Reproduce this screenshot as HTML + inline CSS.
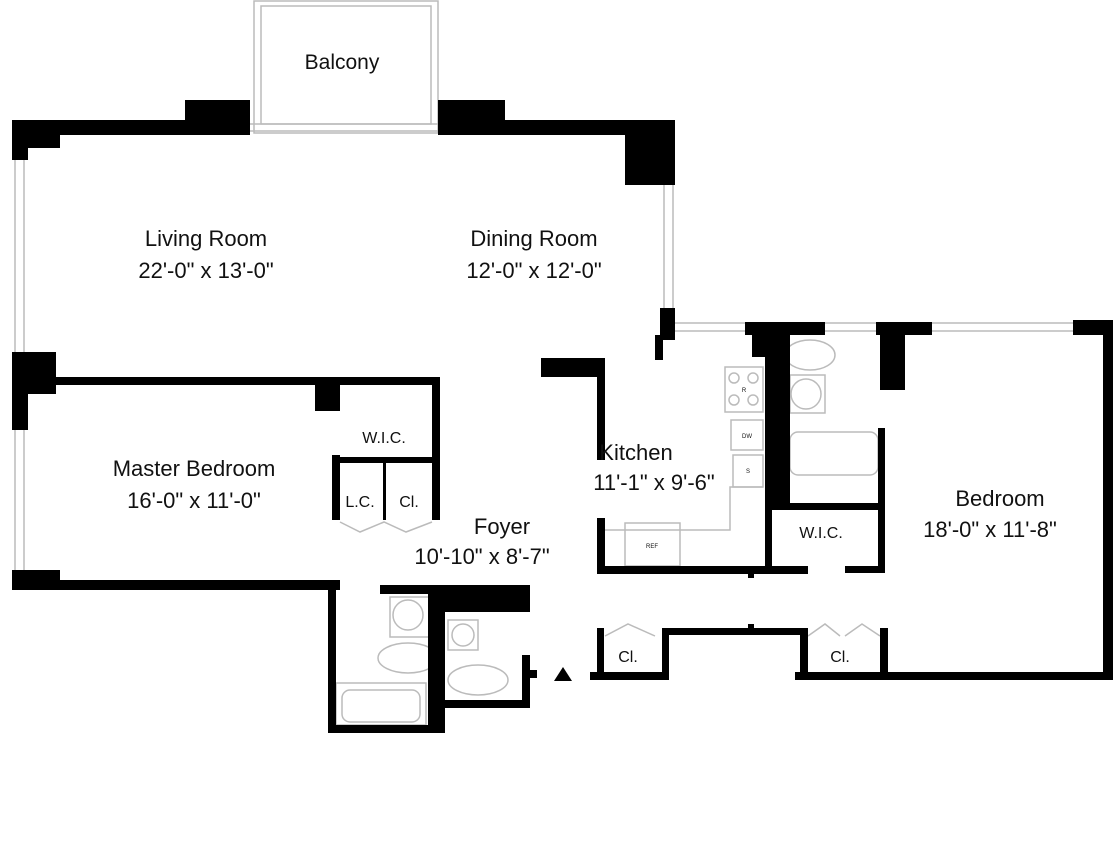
<!DOCTYPE html>
<html><head><meta charset="utf-8"><style>
html,body{margin:0;padding:0;background:#fff;}
svg{display:block;}
text{font-family:"Liberation Sans",sans-serif;fill:#111;text-anchor:middle;}
</style></head><body>
<svg width="1117" height="843" viewBox="0 0 1117 843">
<!-- balcony -->
<g fill="none" stroke="#bbb" stroke-width="1.5">
<rect x="254" y="1" width="184" height="132"/>
<rect x="261" y="6" width="170" height="118"/>
<line x1="250" y1="124" x2="438" y2="124"/><line x1="250" y1="131" x2="438" y2="131"/>
<!-- left windows -->
<line x1="15" y1="160" x2="15" y2="355"/><line x1="24" y1="160" x2="24" y2="355"/>
<line x1="15" y1="430" x2="15" y2="572"/><line x1="24" y1="430" x2="24" y2="572"/>
<!-- dining window -->
<line x1="664" y1="185" x2="664" y2="310"/><line x1="673" y1="185" x2="673" y2="310"/>
<!-- right top window -->
<line x1="675" y1="323" x2="1105" y2="323"/><line x1="675" y1="331" x2="1105" y2="331"/>
<!-- kitchen appliances -->
<rect x="725" y="367" width="38" height="45"/>
<circle cx="734" cy="378" r="5"/><circle cx="753" cy="378" r="5"/><circle cx="734" cy="400" r="5"/><circle cx="753" cy="400" r="5"/>
<rect x="731" y="420" width="32" height="30"/>
<rect x="733" y="455" width="30" height="32"/>
<polyline points="763,487 730,487 730,530 605,530"/>
<rect x="625" y="523" width="55" height="43"/>
<!-- bath right -->
<ellipse cx="810" cy="355" rx="25" ry="15"/>
<rect x="790" y="375" width="35" height="38"/><circle cx="806" cy="394" r="15"/>
<rect x="790" y="432" width="88" height="43" rx="8"/>
<!-- bath bottom -->
<rect x="390" y="597" width="40" height="40"/><circle cx="408" cy="615" r="15"/>
<ellipse cx="408" cy="658" rx="30" ry="15"/>
<rect x="336" y="683" width="90" height="42"/><rect x="342" y="690" width="78" height="32" rx="8"/>
<rect x="448" y="620" width="30" height="30"/><circle cx="463" cy="635" r="11"/>
<ellipse cx="478" cy="680" rx="30" ry="15"/>
<!-- closet doors -->
<polyline points="340,522 360,532 384,522 406,532 432,522"/>
<polyline points="605,636 628,624 655,636"/>
<polyline points="808,636 825,624 840,636"/>
<polyline points="845,636 862,624 880,636"/>
</g>
<g fill="#000">
<!-- top walls -->
<rect x="12" y="120" width="238" height="15"/>
<rect x="185" y="100" width="65" height="35"/>
<rect x="438" y="100" width="67" height="35"/>
<rect x="438" y="120" width="237" height="15"/>
<rect x="625" y="120" width="50" height="65"/>
<rect x="12" y="120" width="16" height="40"/>
<rect x="12" y="135" width="48" height="13"/>
<!-- left wall blocks -->
<rect x="12" y="352" width="16" height="78"/>
<rect x="12" y="352" width="44" height="42"/>
<rect x="12" y="570" width="48" height="20"/>
<rect x="12" y="580" width="328" height="10"/>
<!-- master bedroom -->
<rect x="28" y="377" width="412" height="8"/>
<rect x="315" y="385" width="25" height="26"/>
<rect x="432" y="377" width="8" height="143"/>
<rect x="332" y="455" width="8" height="65"/>
<rect x="332" y="457" width="108" height="6"/>
<rect x="383" y="463" width="3" height="57"/>
<!-- bath bottom -->
<rect x="328" y="587" width="8" height="146"/>
<rect x="328" y="725" width="117" height="8"/>
<rect x="428" y="587" width="17" height="146"/>
<rect x="380" y="585" width="150" height="9"/>
<rect x="428" y="585" width="102" height="27"/>
<rect x="445" y="700" width="85" height="8"/>
<rect x="522" y="655" width="8" height="53"/>
<rect x="528" y="670" width="9" height="8"/>
<!-- dining right -->
<rect x="660" y="308" width="15" height="32"/>
<rect x="655" y="335" width="8" height="25"/>
<!-- kitchen -->
<rect x="541" y="358" width="64" height="19"/>
<rect x="597" y="358" width="8" height="102"/>
<rect x="597" y="518" width="8" height="56"/>
<rect x="597" y="566" width="211" height="8"/>
<rect x="748" y="566" width="6" height="12"/>
<rect x="745" y="322" width="80" height="13"/>
<rect x="752" y="322" width="38" height="35"/>
<rect x="765" y="322" width="25" height="183"/>
<rect x="876" y="322" width="56" height="13"/>
<rect x="880" y="322" width="25" height="68"/>
<rect x="1073" y="320" width="40" height="15"/>
<rect x="1103" y="320" width="10" height="360"/>
<rect x="878" y="428" width="7" height="145"/>
<rect x="765" y="503" width="120" height="7"/>
<rect x="765" y="503" width="7" height="70"/>
<rect x="845" y="566" width="40" height="7"/>
<!-- bottom -->
<rect x="662" y="628" width="146" height="7"/>
<rect x="748" y="624" width="6" height="6"/>
<rect x="597" y="628" width="7" height="52"/>
<rect x="662" y="628" width="7" height="52"/>
<rect x="590" y="672" width="79" height="8"/>
<rect x="800" y="628" width="8" height="52"/>
<rect x="880" y="628" width="8" height="52"/>
<rect x="795" y="672" width="318" height="8"/>
<polygon points="563,667 554,681 572,681"/>
</g>
<text x="342" y="69" font-size="21">Balcony</text>
<text x="206" y="246" font-size="22">Living Room</text>
<text x="206" y="278" font-size="22">22'-0" x 13'-0"</text>
<text x="534" y="246" font-size="22">Dining Room</text>
<text x="534" y="278" font-size="22">12'-0" x 12'-0"</text>
<text x="194" y="476" font-size="22">Master Bedroom</text>
<text x="194" y="508" font-size="22">16'-0" x 11'-0"</text>
<text x="384" y="443" font-size="16">W.I.C.</text>
<text x="360" y="507" font-size="16">L.C.</text>
<text x="409" y="507" font-size="16">Cl.</text>
<text x="636" y="460" font-size="22">Kitchen</text>
<text x="654" y="490" font-size="22">11'-1" x 9'-6"</text>
<text x="502" y="534" font-size="22">Foyer</text>
<text x="482" y="564" font-size="22">10'-10" x 8'-7"</text>
<text x="1000" y="506" font-size="22">Bedroom</text>
<text x="990" y="537" font-size="22">18'-0" x 11'-8"</text>
<text x="821" y="538" font-size="16">W.I.C.</text>
<text x="628" y="662" font-size="16">Cl.</text>
<text x="840" y="662" font-size="16">Cl.</text>
<text x="744" y="392" font-size="6">R</text>
<text x="747" y="438" font-size="6">DW</text>
<text x="748" y="473" font-size="6">S</text>
<text x="652" y="548" font-size="6">REF</text>
</svg>
</body></html>
